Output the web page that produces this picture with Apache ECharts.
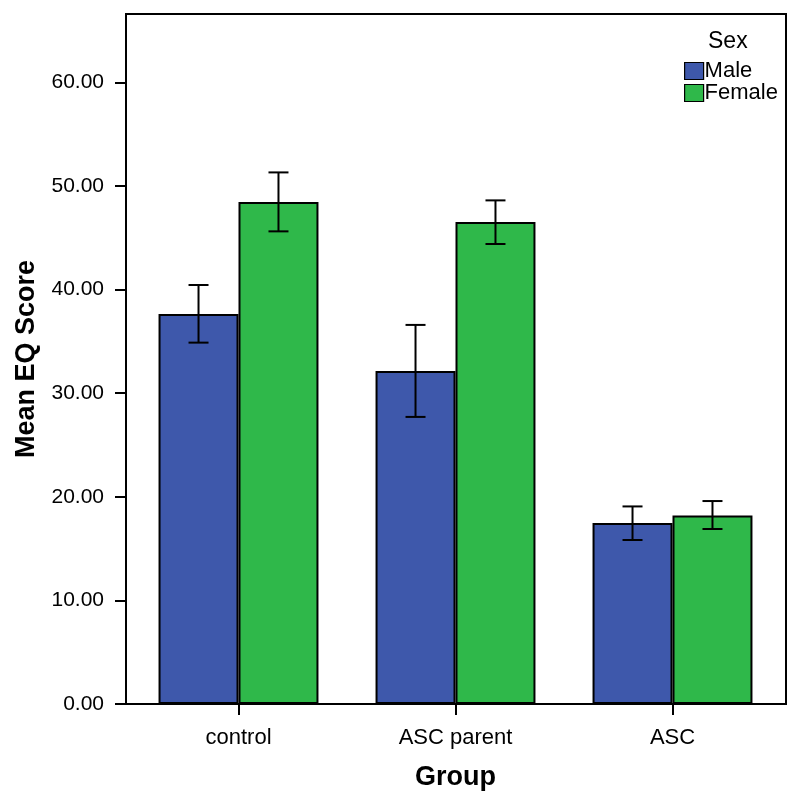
<!DOCTYPE html>
<html>
<head>
<meta charset="utf-8">
<script src="https://cdn.jsdelivr.net/npm/echarts@6/dist/echarts.min.js"></script>
<style>
  html, body { margin: 0; padding: 0; background: #ffffff; }
  #chart { width: 800px; height: 805px; }
</style>
</head>
<body>
<div id="chart"></div>
<script>
// ---- data ----
var categories = ['control', 'ASC parent', 'ASC'];
var seriesNames = ['Male', 'Female'];
var maleMean = [37.65, 32.15, 17.46];
var femaleMean = [48.45, 46.52, 18.20];
var maleLow = [34.88, 27.71, 15.83];
var maleHigh = [40.44, 36.59, 19.07];
var femaleLow = [45.62, 44.40, 16.89];
var femaleHigh = [51.31, 48.61, 19.59];
var yTicks = [0, 10, 20, 30, 40, 50, 60];

// ---- styles ----
var FONT = '"Liberation Sans", Arial, sans-serif';
var MALE_COLOR = '#3e58ab';
var FEMALE_COLOR = '#2fb84a';
var GAP = 0.263;
var Y_MAX = 66.6;

function errData(low, high) {
  return categories.map(function (c, i) { return [i, low[i], high[i]]; });
}

function makeErrRender(side) {
  return function (params, api) {
    var band = api.size([1, 0])[0];
    var barW = band * (1 - GAP) / 2;
    var off = side * barW / 2;
    var lo = api.coord([api.value(0), api.value(1)]);
    var hi = api.coord([api.value(0), api.value(2)]);
    var x = lo[0] + off;
    var cap = 10;
    var st = { stroke: '#000', lineWidth: 2 };
    return {
      type: 'group',
      children: [
        { type: 'line', shape: { x1: x, y1: lo[1], x2: x, y2: hi[1] }, style: st },
        { type: 'line', shape: { x1: x - cap, y1: lo[1], x2: x + cap, y2: lo[1] }, style: st },
        { type: 'line', shape: { x1: x - cap, y1: hi[1], x2: x + cap, y2: hi[1] }, style: st }
      ]
    };
  };
}

var chart = echarts.init(document.getElementById('chart'), null, { renderer: 'canvas' });

var option = {
  backgroundColor: '#ffffff',
  animation: false,
  textStyle: { fontFamily: FONT },
  title: {
    text: 'Sex',
    left: 703,
    top: 25,
    textStyle: { fontFamily: FONT, fontSize: 23, fontWeight: 'normal', color: '#000' }
  },
  legend: {
    data: seriesNames,
    orient: 'vertical',
    left: 679,
    top: 55,
    itemWidth: 19,
    itemHeight: 17,
    itemGap: 0,
    icon: 'rect',
    itemStyle: { borderColor: '#000', borderWidth: 1.2 },
    textStyle: { fontFamily: FONT, fontSize: 22, lineHeight: 21, color: '#000', padding: [0, 0, 0, -4] }
  },
  grid: [
    { left: 126, right: 14, top: 14, bottom: 101, show: true, borderColor: '#000', borderWidth: 2, backgroundColor: 'transparent' },
    { left: 130, right: 19, top: 14, bottom: 101 }
  ],
  xAxis: [
    { type: 'value', gridIndex: 0, show: false, min: 0, max: 1 },
    {
      type: 'category',
      gridIndex: 1,
      data: categories,
      axisLine: { show: false },
      axisTick: { show: true, alignWithLabel: true, length: 11, lineStyle: { color: '#000', width: 2 } },
      axisLabel: { fontFamily: FONT, fontSize: 22, color: '#000', margin: 23 },
      name: 'Group',
      nameLocation: 'middle',
      nameGap: 60,
      nameTextStyle: { fontFamily: FONT, fontSize: 27, fontWeight: 'bold', color: '#000' }
    }
  ],
  yAxis: [
    {
      type: 'value',
      gridIndex: 0,
      min: 0,
      max: Y_MAX,
      interval: 10,
      axisLine: { show: true, lineStyle: { color: '#000', width: 2 } },
      axisTick: { show: true, length: 11, lineStyle: { color: '#000', width: 2 } },
      splitLine: { show: false },
      axisLabel: {
        fontFamily: FONT, fontSize: 21, color: '#000', margin: 22,
        showMaxLabel: false,
        formatter: function (v) { return yTicks.indexOf(v) >= 0 ? v.toFixed(2) : ''; }
      },
      name: 'Mean EQ Score',
      nameLocation: 'middle',
      nameGap: 86,
      nameTextStyle: { fontFamily: FONT, fontSize: 27, fontWeight: 'bold', color: '#000' }
    },
    { type: 'value', gridIndex: 1, min: 0, max: Y_MAX, interval: 10, show: false }
  ],
  series: [
    {
      name: 'Male', type: 'bar', xAxisIndex: 1, yAxisIndex: 1,
      data: maleMean, barGap: '0%', barCategoryGap: (GAP * 100) + '%',
      itemStyle: { color: MALE_COLOR, borderColor: '#000', borderWidth: 2 }
    },
    {
      name: 'Female', type: 'bar', xAxisIndex: 1, yAxisIndex: 1,
      data: femaleMean, barGap: '0%', barCategoryGap: (GAP * 100) + '%',
      itemStyle: { color: FEMALE_COLOR, borderColor: '#000', borderWidth: 2 }
    },
    {
      name: 'Male error', type: 'custom', xAxisIndex: 1, yAxisIndex: 1,
      data: errData(maleLow, maleHigh), renderItem: makeErrRender(-1),
      encode: { x: 0, y: [1, 2] }, z: 5
    },
    {
      name: 'Female error', type: 'custom', xAxisIndex: 1, yAxisIndex: 1,
      data: errData(femaleLow, femaleHigh), renderItem: makeErrRender(1),
      encode: { x: 0, y: [1, 2] }, z: 5
    }
  ]
};

chart.setOption(option);
</script>
</body>
</html>
